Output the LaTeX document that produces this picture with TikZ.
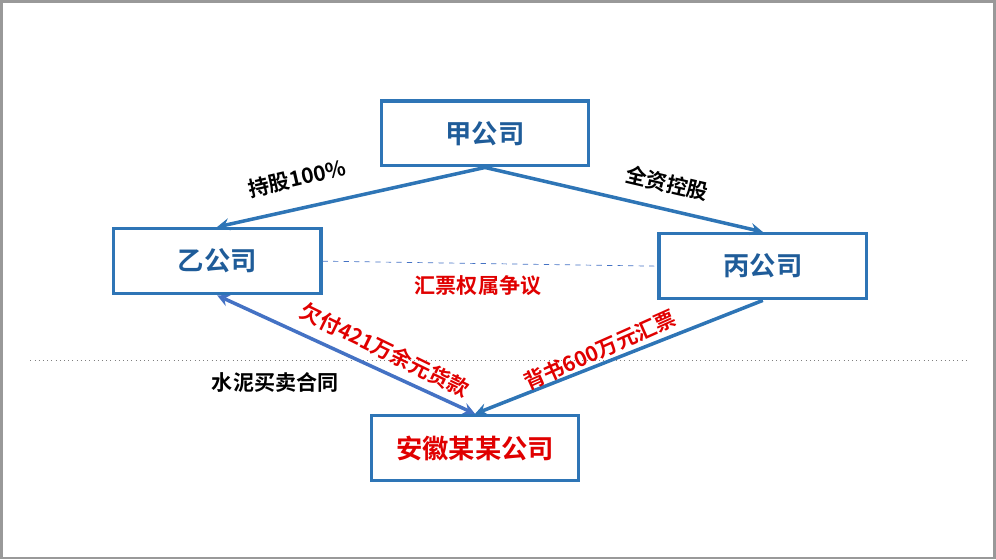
\documentclass[tikz,border=0pt]{standalone}
\usepackage{fontspec}
\newfontfamily\cjk{Noto Sans CJK SC}[BoldFont={Noto Sans CJK SC Bold}]
\usetikzlibrary{positioning}
\definecolor{boxblue}{HTML}{2E75B6}
\definecolor{txtblue}{HTML}{1F5C99}
\definecolor{linkblue}{HTML}{4472C4}
\definecolor{txtred}{HTML}{E00000}
\begin{document}
\begin{tikzpicture}[x=0.02cm,y=-0.02cm,
    company/.style = {shape=rectangle, draw=boxblue, line width=2pt,
      minimum width=4.15cm, minimum height=1.3cm,
      font=\cjk\bfseries\fontsize{15}{18}\selectfont, text=txtblue},
    arrowline/.style = {draw=boxblue, line width=2pt, -stealth},
    note/.style = {font=\cjk\bfseries\fontsize{12}{14}\selectfont, inner sep=1pt},
    rednote/.style = {note, text=txtred}]
    \draw[gray!80, line width=1.5pt] (1,1) rectangle (995,558);
    \draw[dotted, gray] (30,360) -- (970,360);
    \node[company] (jia) at (485,133) {甲公司};
    \node[company] (yi) at (217,261) {乙公司};
    \node[company] (bing) at (763,266) {丙公司};
    \node[company, text=txtred] (anhui) at (475,448) {安徽某某公司};
    % shareholding
    \draw[arrowline] (jia.south) -- (yi.north);
    \draw[arrowline] (jia.south) -- (bing.north);
    \draw[dashed, linkblue] (yi.east) -- (bing.west);
    % bill and contract
    \draw[arrowline] (bing.south) -- (anhui.north);
    \draw[draw=linkblue, line width=2pt, stealth-stealth] (yi.south) -- (anhui.north);
    \node[note, rotate=13] (share) at (297,178) {持股100\%};
    \node[note, rotate=-13] (full) at (667,183) {全资控股};
    \node[rednote] (dispute) at (478,285) {汇票权属争议};
    \node[rednote, rotate=-26] (owe) at (385,350) {欠付421万余元货款};
    \node[rednote, rotate=24] (endorse) at (600,350) {背书600万元汇票};
    \node[note] (contract) at (275,382) {水泥买卖合同};
\end{tikzpicture}
\end{document}
